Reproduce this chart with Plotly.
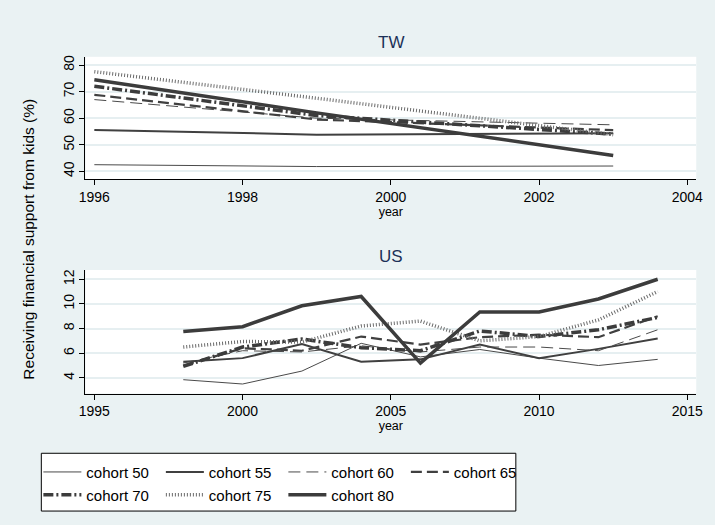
import plotly.graph_objects as go

# ---------------- data ----------------
cohort_names = ["cohort 50", "cohort 55", "cohort 60", "cohort 65",
                "cohort 70", "cohort 75", "cohort 80"]

tw_years = [1996, 1999, 2003]
tw_c50 = [42.5, 41.8, 42.0]
tw_c55 = [55.6, 53.8, 54.3]
tw_c60 = [67.0, 60.0, 57.5]
tw_c65 = [68.8, 59.5, 55.5]
tw_c70 = [72.0, 61.0, 54.0]
tw_c75 = [77.5, 67.5, 53.8]
tw_c80 = [74.5, 62.0, 46.0]

us_years = [1998, 2000, 2002, 2004, 2006, 2008, 2010, 2012, 2014]
us_c50 = [3.85, 3.5, 4.55, 6.8, 5.7, 6.3, 5.6, 5.0, 5.5]
us_c55 = [5.3, 5.6, 6.75, 5.3, 5.5, 6.7, 5.6, 6.35, 7.2]
us_c60 = [5.2, 6.2, 6.1, 6.6, 6.1, 6.5, 6.5, 6.2, 7.9]
us_c65 = [5.0, 6.4, 6.2, 7.35, 6.7, 7.3, 7.5, 7.3, 9.0]
us_c70 = [4.93, 6.5, 7.15, 6.45, 6.2, 7.8, 7.35, 7.9, 8.9]
us_c75 = [6.5, 6.95, 6.9, 8.2, 8.6, 7.0, 7.35, 8.7, 11.0]
us_c80 = [7.75, 8.15, 9.85, 10.6, 5.2, 9.35, 9.35, 10.4, 12.0]

tw_series = [tw_c50, tw_c55, tw_c60, tw_c65, tw_c70, tw_c75, tw_c80]
us_series = [us_c50, us_c55, us_c60, us_c65, us_c70, us_c75, us_c80]

tw_yticks = [40, 50, 60, 70, 80]
tw_xticks = [1996, 1998, 2000, 2002, 2004]
us_yticks = [4, 6, 8, 10, 12]
us_xticks = [1995, 2000, 2005, 2010, 2015]

# ---------------- styles ----------------
line_styles = [
    dict(color="#4a4a4a", width=1.0, dash="solid"),
    dict(color="#404040", width=2.0, dash="solid"),
    dict(color="#4a4a4a", width=1.0, dash="12px,6px"),
    dict(color="#404040", width=2.2, dash="11px,5px"),
    dict(color="#3c3c3c", width=3.5, dash="10px,3px,2px,3px"),
    dict(color="#6a6a6a", width=3.5, dash="1px,2px"),
    dict(color="#3c3c3c", width=3.5, dash="solid"),
]

W, H = 715, 525
BG = "#eaf2f3"
GRID = "#e6eff1"
FONT = "Liberation Sans, Arial, sans-serif"
TITLE_COLOR = "#1c3158"


def fx(p):
    return p / W


def fy(p):
    return 1 - p / H


fig = go.Figure()

for i, name in enumerate(cohort_names):
    fig.add_trace(go.Scatter(
        x=tw_years, y=tw_series[i], mode="lines", name=name,
        line=line_styles[i], xaxis="x", yaxis="y",
        legend="legend" if i < 4 else "legend2", showlegend=True))
for i, name in enumerate(cohort_names):
    fig.add_trace(go.Scatter(
        x=us_years, y=us_series[i], mode="lines", name=name,
        line=line_styles[i], xaxis="x2", yaxis="y2", showlegend=False))

axis_common = dict(showline=True, linecolor="#000", linewidth=1,
                   ticks="outside", ticklen=5, tickcolor="#000",
                   tickfont=dict(family=FONT, size=14, color="#000"),
                   zeroline=False)

x_dom = [fx(80), fx(703)]
fig.update_layout(
    width=W, height=H,
    paper_bgcolor=BG, plot_bgcolor="#ffffff",
    margin=dict(l=0, r=0, t=0, b=0),
    font=dict(family=FONT, color="#000"),
    xaxis=dict(domain=x_dom, anchor="y", range=[1995.88, 2004.12],
               tickvals=tw_xticks, showgrid=False,
               title=dict(text="year", font=dict(size=12.5), standoff=1),
               **axis_common),
    yaxis=dict(domain=[fy(178), fy(55)], anchor="x", range=[37.0, 83.1],
               tickvals=tw_yticks, tickangle=-90, showgrid=True,
               gridcolor=GRID, gridwidth=1.5, **axis_common),
    xaxis2=dict(domain=x_dom, anchor="y2", range=[1994.70, 2015.30],
                tickvals=us_xticks, showgrid=False,
                title=dict(text="year", font=dict(size=12.5), standoff=1),
                **axis_common),
    yaxis2=dict(domain=[fy(393), fy(269)], anchor="x2", range=[2.73, 12.75],
                tickvals=us_yticks, tickangle=-90, showgrid=True,
                gridcolor=GRID, gridwidth=1.5, **axis_common),
    legend=dict(orientation="h", x=fx(32), y=fy(472), xanchor="left",
                yanchor="middle", bgcolor="rgba(0,0,0,0)", borderwidth=0,
                itemwidth=38, entrywidth=69.5, entrywidthmode="pixels",
                font=dict(family=FONT, size=15, color="#000"),
                traceorder="normal"),
    legend2=dict(orientation="h", x=fx(32), y=fy(495), xanchor="left",
                 yanchor="middle", bgcolor="rgba(0,0,0,0)", borderwidth=0,
                 itemwidth=38, entrywidth=69.5, entrywidthmode="pixels",
                 font=dict(family=FONT, size=15, color="#000"),
                 traceorder="normal"),
    shapes=[dict(type="rect", xref="paper", yref="paper",
                 x0=fx(35), x1=fx(519), y0=fy(511), y1=fy(453),
                 fillcolor="#ffffff", line=dict(color="#000", width=1),
                 layer="below")],
    annotations=[
        dict(text="TW", x=fx(391.5), y=fy(41), xref="paper", yref="paper",
             showarrow=False, xanchor="center", yanchor="middle",
             font=dict(family=FONT, size=17, color=TITLE_COLOR)),
        dict(text="US", x=fx(391.5), y=fy(255), xref="paper", yref="paper",
             showarrow=False, xanchor="center", yanchor="middle",
             font=dict(family=FONT, size=17, color=TITLE_COLOR)),
        dict(text="Receiving financial support from kids (%)",
             x=fx(22), y=fy(238), xref="paper", yref="paper",
             showarrow=False, xanchor="center", yanchor="middle",
             textangle=-90,
             font=dict(family=FONT, size=15.5, color="#000")),
    ],
)

fig.write_html("out.html")
